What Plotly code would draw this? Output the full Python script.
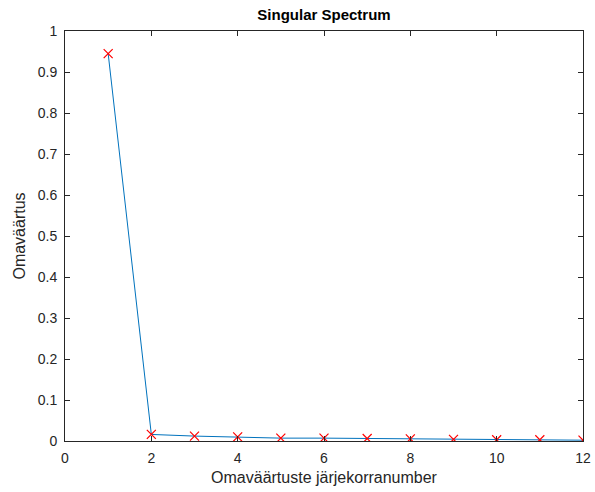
import plotly.graph_objects as go

idx = list(range(1, 13))
vals = [0.945, 0.016, 0.012, 0.010, 0.007, 0.007, 0.006, 0.005, 0.004, 0.003, 0.003, 0.002]
xticks = [0, 2, 4, 6, 8, 10, 12]
yticks = [0, 0.1, 0.2, 0.3, 0.4, 0.5, 0.6, 0.7, 0.8, 0.9, 1]
ytick_text = ["0", "0.1", "0.2", "0.3", "0.4", "0.5", "0.6", "0.7", "0.8", "0.9", "1"]

FONT = "Liberation Sans, Arial"
fig = go.Figure()
fig.add_trace(go.Scatter(x=idx, y=vals, mode="lines", line=dict(color="#0072BD", width=1), hoverinfo="skip"))
fig.add_trace(go.Scatter(x=idx, y=vals, mode="markers",
                         marker=dict(symbol="x-thin", size=9, line=dict(color="#FF0000", width=1.2))))

axis_common = dict(showgrid=False, zeroline=False, showline=True, linecolor="#262626", linewidth=1,
                   mirror="ticks", ticks="inside", ticklen=5, tickcolor="#262626", automargin=False,
                   tickfont=dict(family=FONT, size=14, color="#262626"))
fig.update_xaxes(range=[0, 12], tickvals=xticks, **axis_common, ticklabelstandoff=4,
                 title=dict(text="Omaväärtuste järjekorranumber", standoff=7,
                            font=dict(family=FONT, size=16, color="#262626")))
fig.update_yaxes(range=[0, 1], tickvals=yticks, ticktext=ytick_text, **axis_common, ticklabelstandoff=4,
                 title=dict(text="Omaväärtus", standoff=8,
                            font=dict(family=FONT, size=16, color="#262626")))
fig.update_layout(
    width=595, height=492,
    margin=dict(l=65, r=12, t=31, b=51),
    paper_bgcolor="white", plot_bgcolor="white",
    showlegend=False,
    title=dict(text="<b>Singular Spectrum</b>", x=0.5, xanchor="center", xref="paper", y=1, yref="paper",
               yanchor="bottom", pad=dict(b=11),
               font=dict(family=FONT, size=15, color="black")),
)
fig.write_html("out.html")
